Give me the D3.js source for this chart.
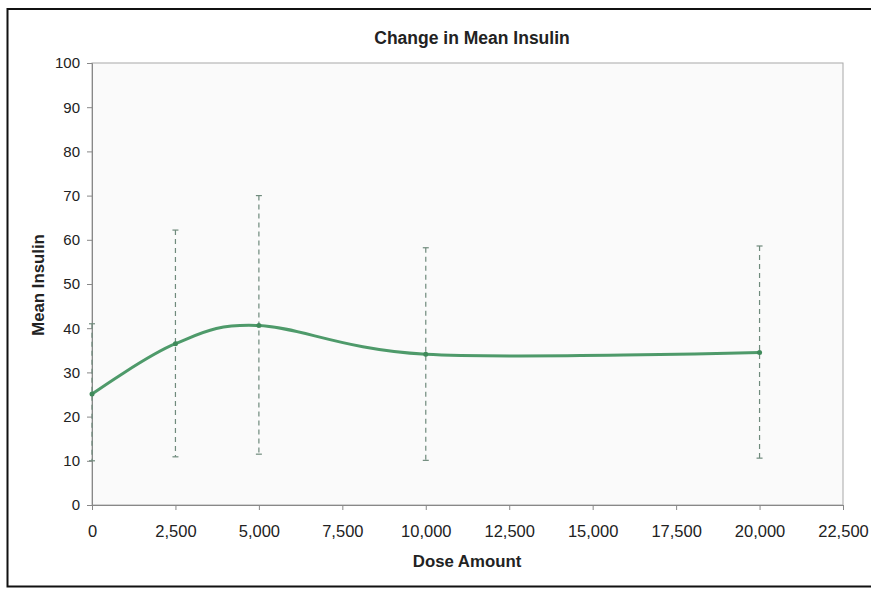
<!DOCTYPE html>
<html>
<head>
<meta charset="utf-8">
<script src="https://cdn.jsdelivr.net/npm/d3@7"></script>
<style>
  body { margin: 0; background: #fff; }
  svg text { font-family: "Liberation Sans", Arial, sans-serif; fill: #222; }
</style>
</head>
<body>
<svg id="chart" width="871" height="590"></svg>
<script>
// values
var doses = [0, 2500, 5000, 10000, 20000]
var meanInsulin = [25.1, 36.5, 40.6, 34.1, 34.5]
var errTop = [41, 62.2, 70.0, 58.2, 58.6]
var errBottom = [10, 10.9, 11.5, 10.1, 10.6]
var xTicks = [0, 2500, 5000, 7500, 10000, 12500, 15000, 17500, 20000, 22500]
var yTicks = [0, 10, 20, 30, 40, 50, 60, 70, 80, 90, 100]

function drawChart() {
    var width = 871, height = 590
    var margin = { top: 63, right: 28, bottom: 85, left: 92 }
    var svg = d3.select("#chart")

    // outer frame (left, top, bottom visible)
    svg.append("path")
        .attr("d", "M871,9 H7.5 V586.5 H871")
        .attr("fill", "none")
        .attr("stroke", "#111")
        .attr("stroke-width", 2)

    var xScale = d3.scaleLinear()
        .domain([0, 22500])
        .range([margin.left, width - margin.right])
    var yScale = d3.scaleLinear()
        .domain([0, 100])
        .range([height - margin.bottom, margin.top])

    // plot area
    svg.append("rect")
        .attr("x", xScale(0))
        .attr("y", yScale(100))
        .attr("width", xScale(22500) - xScale(0))
        .attr("height", yScale(0) - yScale(100))
        .attr("fill", "#fafafa")
        .attr("stroke", "#a8a8a8")
        .attr("stroke-width", 1)

    // axes
    var xAxis = svg.append("g")
        .attr("transform", "translate(0," + yScale(0) + ")")
        .call(d3.axisBottom(xScale).tickValues(xTicks).tickSize(5).tickPadding(15)
            .tickFormat(d3.format(",")))
    var yAxis = svg.append("g")
        .attr("transform", "translate(" + xScale(0) + ",0)")
        .call(d3.axisLeft(yScale).tickValues(yTicks).tickSize(5).tickPadding(7))
    ;[xAxis, yAxis].forEach(function (ax) {
        ax.select(".domain").attr("stroke", "#888")
        ax.selectAll(".tick line").attr("stroke", "#888")
        ax.selectAll("text").attr("fill", "#222")
    })
    xAxis.selectAll("text").style("font-size", "16.5px")
    yAxis.selectAll("text").style("font-size", "15px")

    // error bars
    var bars = svg.append("g")
    doses.forEach(function (d, i) {
        bars.append("line")
            .attr("x1", xScale(d)).attr("x2", xScale(d))
            .attr("y1", yScale(errTop[i])).attr("y2", yScale(errBottom[i]))
            .attr("stroke", "#6f8a7c")
            .attr("stroke-width", 1.2)
            .attr("stroke-dasharray", "5,4")
        ;[errTop[i], errBottom[i]].forEach(function (v) {
            bars.append("line")
                .attr("x1", xScale(d) - 3).attr("x2", xScale(d) + 3)
                .attr("y1", yScale(v)).attr("y2", yScale(v))
                .attr("stroke", "#6f8a7c")
                .attr("stroke-width", 1.2)
        })
    })

    // smoothed line
    var pts = doses.map(function (d, i) { return { dose: d, val: meanInsulin[i] } })
    svg.append("path")
        .datum(pts)
        .attr("fill", "none")
        .attr("stroke", "#4e9a6a")
        .attr("stroke-width", 3)
        .attr("d", d3.line()
            .curve(d3.curveCardinal.tension(0))
            .x(function (d) { return xScale(d.dose) })
            .y(function (d) { return yScale(d.val) }))
    svg.selectAll(".pt")
        .data(pts)
        .enter()
        .append("circle")
        .attr("class", "pt")
        .attr("cx", function (d) { return xScale(d.dose) })
        .attr("cy", function (d) { return yScale(d.val) })
        .attr("r", 2.5)
        .attr("fill", "#3f8a5a")

    // titles
    svg.append("text")
        .attr("x", 472)
        .attr("y", 44)
        .attr("text-anchor", "middle")
        .style("font-size", "17.5px")
        .style("font-weight", "bold")
        .text("Change in Mean Insulin")
    svg.append("text")
        .attr("x", 467)
        .attr("y", 567)
        .attr("text-anchor", "middle")
        .style("font-size", "16.8px")
        .style("font-weight", "bold")
        .text("Dose Amount")
    svg.append("text")
        .attr("transform", "rotate(-90)")
        .attr("x", -285)
        .attr("y", 44)
        .attr("text-anchor", "middle")
        .style("font-size", "16.8px")
        .style("font-weight", "bold")
        .text("Mean Insulin")
}
drawChart()
</script>
</body>
</html>
